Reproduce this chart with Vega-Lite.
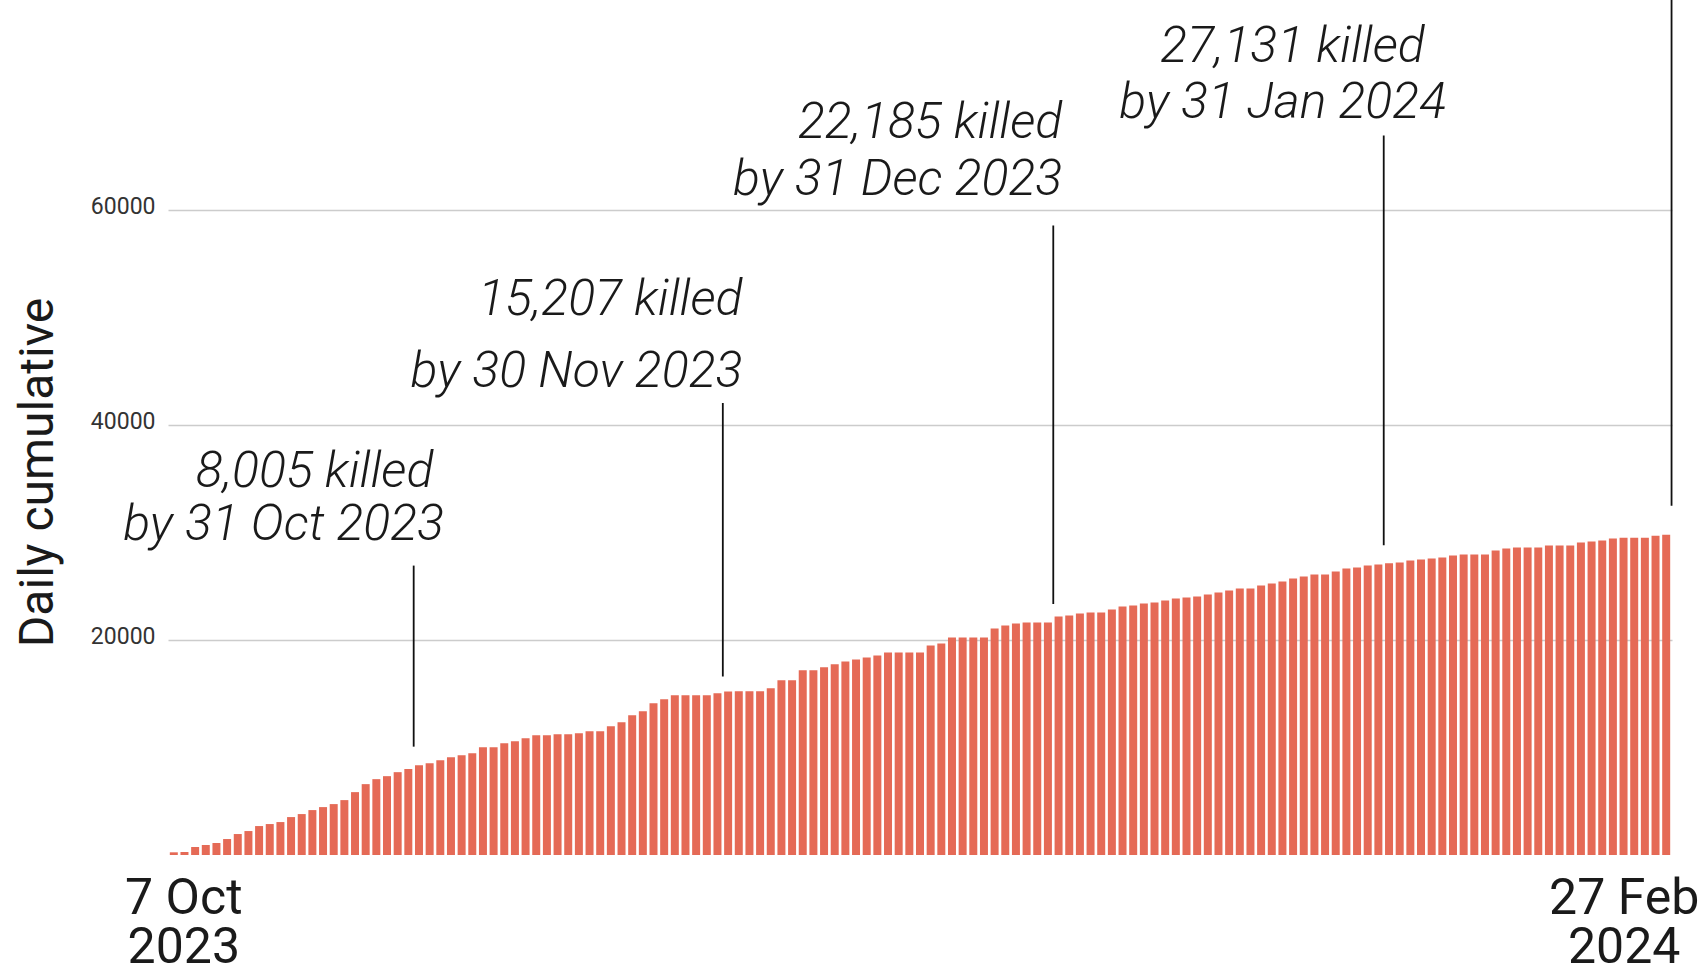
{
  "$schema": "https://vega.github.io/schema/vega-lite/v6.json",
  "width": 1504,
  "height": 855,
  "autosize": {"type": "none"},
  "padding": {"left": 168, "top": 0, "right": 27, "bottom": 113},
  "background": "white",
  "config": {"view": {"stroke": null}, "font": "Roboto"},
  "datasets": {
    "daily": [
      {"date": "2023-10-07", "killed": 250}, {"date": "2023-10-08", "killed": 280}, {"date": "2023-10-09", "killed": 742},
      {"date": "2023-10-10", "killed": 928}, {"date": "2023-10-11", "killed": 1114}, {"date": "2023-10-12", "killed": 1485},
      {"date": "2023-10-13", "killed": 1949}, {"date": "2023-10-14", "killed": 2227}, {"date": "2023-10-15", "killed": 2691},
      {"date": "2023-10-16", "killed": 2877}, {"date": "2023-10-17", "killed": 3062}, {"date": "2023-10-18", "killed": 3526},
      {"date": "2023-10-19", "killed": 3805}, {"date": "2023-10-20", "killed": 4176}, {"date": "2023-10-21", "killed": 4454},
      {"date": "2023-10-22", "killed": 4733}, {"date": "2023-10-23", "killed": 5104}, {"date": "2023-10-24", "killed": 5846},
      {"date": "2023-10-25", "killed": 6589}, {"date": "2023-10-26", "killed": 7053}, {"date": "2023-10-27", "killed": 7331},
      {"date": "2023-10-28", "killed": 7702}, {"date": "2023-10-29", "killed": 8005}, {"date": "2023-10-30", "killed": 8352},
      {"date": "2023-10-31", "killed": 8538}, {"date": "2023-11-01", "killed": 8816}, {"date": "2023-11-02", "killed": 9094},
      {"date": "2023-11-03", "killed": 9280}, {"date": "2023-11-04", "killed": 9466}, {"date": "2023-11-05", "killed": 10022},
      {"date": "2023-11-06", "killed": 10022}, {"date": "2023-11-07", "killed": 10394}, {"date": "2023-11-08", "killed": 10579},
      {"date": "2023-11-09", "killed": 10858}, {"date": "2023-11-10", "killed": 11136}, {"date": "2023-11-11", "killed": 11136},
      {"date": "2023-11-15", "killed": 11229}, {"date": "2023-11-16", "killed": 11229}, {"date": "2023-11-17", "killed": 11322},
      {"date": "2023-11-18", "killed": 11507}, {"date": "2023-11-19", "killed": 11507}, {"date": "2023-11-20", "killed": 11971},
      {"date": "2023-11-21", "killed": 12342}, {"date": "2023-11-22", "killed": 12992}, {"date": "2023-11-23", "killed": 13363},
      {"date": "2023-11-24", "killed": 14106}, {"date": "2023-11-25", "killed": 14477}, {"date": "2023-11-26", "killed": 14848},
      {"date": "2023-11-27", "killed": 14848}, {"date": "2023-11-28", "killed": 14848}, {"date": "2023-11-29", "killed": 14848},
      {"date": "2023-11-30", "killed": 15034}, {"date": "2023-12-01", "killed": 15207}, {"date": "2023-12-02", "killed": 15219},
      {"date": "2023-12-03", "killed": 15219}, {"date": "2023-12-04", "killed": 15219}, {"date": "2023-12-05", "killed": 15498},
      {"date": "2023-12-06", "killed": 16240}, {"date": "2023-12-07", "killed": 16240}, {"date": "2023-12-08", "killed": 17168},
      {"date": "2023-12-09", "killed": 17168}, {"date": "2023-12-10", "killed": 17446}, {"date": "2023-12-11", "killed": 17725},
      {"date": "2023-12-12", "killed": 18003}, {"date": "2023-12-13", "killed": 18189}, {"date": "2023-12-14", "killed": 18375},
      {"date": "2023-12-15", "killed": 18560}, {"date": "2023-12-16", "killed": 18838}, {"date": "2023-12-17", "killed": 18838},
      {"date": "2023-12-18", "killed": 18838}, {"date": "2023-12-19", "killed": 18838}, {"date": "2023-12-20", "killed": 19488},
      {"date": "2023-12-21", "killed": 19674}, {"date": "2023-12-22", "killed": 20230}, {"date": "2023-12-23", "killed": 20230},
      {"date": "2023-12-24", "killed": 20230}, {"date": "2023-12-25", "killed": 20230}, {"date": "2023-12-26", "killed": 21066},
      {"date": "2023-12-27", "killed": 21344}, {"date": "2023-12-28", "killed": 21530}, {"date": "2023-12-29", "killed": 21622},
      {"date": "2023-12-30", "killed": 21622}, {"date": "2023-12-31", "killed": 21622}, {"date": "2024-01-01", "killed": 22185},
      {"date": "2024-01-02", "killed": 22272}, {"date": "2024-01-03", "killed": 22458}, {"date": "2024-01-04", "killed": 22550},
      {"date": "2024-01-05", "killed": 22550}, {"date": "2024-01-06", "killed": 22829}, {"date": "2024-01-07", "killed": 23107},
      {"date": "2024-01-08", "killed": 23200}, {"date": "2024-01-09", "killed": 23386}, {"date": "2024-01-10", "killed": 23479},
      {"date": "2024-01-11", "killed": 23664}, {"date": "2024-01-12", "killed": 23850}, {"date": "2024-01-13", "killed": 23943},
      {"date": "2024-01-14", "killed": 24036}, {"date": "2024-01-15", "killed": 24221}, {"date": "2024-01-16", "killed": 24407},
      {"date": "2024-01-17", "killed": 24593}, {"date": "2024-01-18", "killed": 24778}, {"date": "2024-01-19", "killed": 24778},
      {"date": "2024-01-20", "killed": 25056}, {"date": "2024-01-21", "killed": 25242}, {"date": "2024-01-22", "killed": 25427},
      {"date": "2024-01-23", "killed": 25706}, {"date": "2024-01-24", "killed": 25892}, {"date": "2024-01-25", "killed": 26077},
      {"date": "2024-01-26", "killed": 26077}, {"date": "2024-01-27", "killed": 26355}, {"date": "2024-01-28", "killed": 26634},
      {"date": "2024-01-29", "killed": 26726}, {"date": "2024-01-30", "killed": 26912}, {"date": "2024-01-31", "killed": 27005},
      {"date": "2024-02-01", "killed": 27131}, {"date": "2024-02-02", "killed": 27190}, {"date": "2024-02-03", "killed": 27376},
      {"date": "2024-02-04", "killed": 27469}, {"date": "2024-02-05", "killed": 27562}, {"date": "2024-02-06", "killed": 27654},
      {"date": "2024-02-07", "killed": 27840}, {"date": "2024-02-08", "killed": 27933}, {"date": "2024-02-09", "killed": 27933},
      {"date": "2024-02-10", "killed": 27933}, {"date": "2024-02-11", "killed": 28304}, {"date": "2024-02-12", "killed": 28490},
      {"date": "2024-02-13", "killed": 28582}, {"date": "2024-02-14", "killed": 28582}, {"date": "2024-02-15", "killed": 28582},
      {"date": "2024-02-16", "killed": 28768}, {"date": "2024-02-17", "killed": 28768}, {"date": "2024-02-18", "killed": 28768},
      {"date": "2024-02-19", "killed": 29046}, {"date": "2024-02-20", "killed": 29139}, {"date": "2024-02-21", "killed": 29232},
      {"date": "2024-02-22", "killed": 29418}, {"date": "2024-02-23", "killed": 29510}, {"date": "2024-02-24", "killed": 29510},
      {"date": "2024-02-25", "killed": 29510}, {"date": "2024-02-26", "killed": 29696}, {"date": "2024-02-27", "killed": 29789}
    ],
    "lines": [
      {"date": "2023-10-29", "from": 10074, "to": 26910},
      {"date": "2023-11-30", "from": 16586, "to": 42020},
      {"date": "2023-12-31", "from": 23348, "to": 58540},
      {"date": "2024-01-31", "from": 28810, "to": 66910},
      {"date": "2024-02-27", "from": 32464, "to": 79500}
    ],
    "notes": [
      {"date": "2023-10-31", "at": 34260, "label": "8,005 killed"},
      {"date": "2023-11-01", "at": 29300, "label": "by 31 Oct 2023"},
      {"date": "2023-12-02", "at": 50230, "label": "15,207 killed"},
      {"date": "2023-12-02", "at": 43530, "label": "by 30 Nov 2023"},
      {"date": "2024-01-01", "at": 66700, "label": "22,185 killed"},
      {"date": "2024-01-01", "at": 61390, "label": "by 31 Dec 2023"},
      {"date": "2024-02-04", "at": 73760, "label": "27,131 killed"},
      {"date": "2024-02-06", "at": 68560, "label": "by 31 Jan 2024"}
    ]
  },
  "layer": [
    {
      "data": {"name": "daily"},
      "mark": {"type": "bar", "color": "#e56a56"},
      "encoding": {
        "x": {
          "field": "date",
          "type": "ordinal",
          "scale": {"paddingInner": 0.25, "paddingOuter": 0.17},
          "axis": {
            "values": ["2023-10-07", "2024-02-27"],
            "labelExpr": "datum.value == '2023-10-07' ? ['7 Oct', '2023'] : ['27 Feb', '2024']",
            "title": null,
            "domain": false,
            "ticks": false,
            "tickSize": 0,
            "grid": false,
            "labelAngle": 0,
            "labelFont": "Roboto",
            "labelFontSize": 50,
            "labelColor": "#1a1a1a",
            "labelBaseline": "alphabetic",
            "labelAlign": "center",
            "labelPadding": 58,
            "labelLineHeight": 49,
            "labelOffset": {"condition": {"test": "datum.value == '2024-02-27'", "value": -42}, "value": 10},
            "labelOverlap": false,
            "labelBound": false,
            "labelFlush": false
          }
        },
        "y": {
          "field": "killed",
          "type": "quantitative",
          "scale": {"domain": [0, 79500], "nice": false},
          "axis": {
            "values": [20000, 40000, 60000],
            "format": "d",
            "title": "Daily cumulative",
            "domain": false,
            "ticks": false,
            "tickSize": 0,
            "grid": true,
            "gridColor": "#cccccc",
            "gridWidth": 1.5,
            "labelFont": "Roboto",
            "labelFontSize": 23,
            "labelColor": "#333333",
            "labelPadding": 13,
            "labelBaseline": "alphabetic",
            "labelOffset": 4,
            "titleFont": "Roboto",
            "titleFontSize": 48,
            "titleFontWeight": "normal",
            "titleColor": "#1a1a1a",
            "titleAngle": -90,
            "titleBaseline": "middle",
            "titleAlign": "center",
            "titleX": -130,
            "titleY": 472
          }
        }
      }
    },
    {
      "data": {"name": "lines"},
      "mark": {"type": "rule", "color": "#111111", "strokeWidth": 1.8},
      "encoding": {
        "x": {"field": "date", "type": "ordinal", "bandPosition": 1.17},
        "y": {"field": "from", "type": "quantitative"},
        "y2": {"field": "to"}
      }
    },
    {
      "data": {"name": "notes"},
      "mark": {
        "type": "text",
        "align": "right",
        "baseline": "alphabetic",
        "dx": 3.7,
        "font": "Roboto",
        "fontStyle": "italic",
        "fontWeight": 300,
        "fontSize": 50,
        "color": "#1a1a1a"
      },
      "encoding": {
        "x": {"field": "date", "type": "ordinal"},
        "y": {"field": "at", "type": "quantitative"},
        "text": {"field": "label"}
      }
    }
  ]
}
